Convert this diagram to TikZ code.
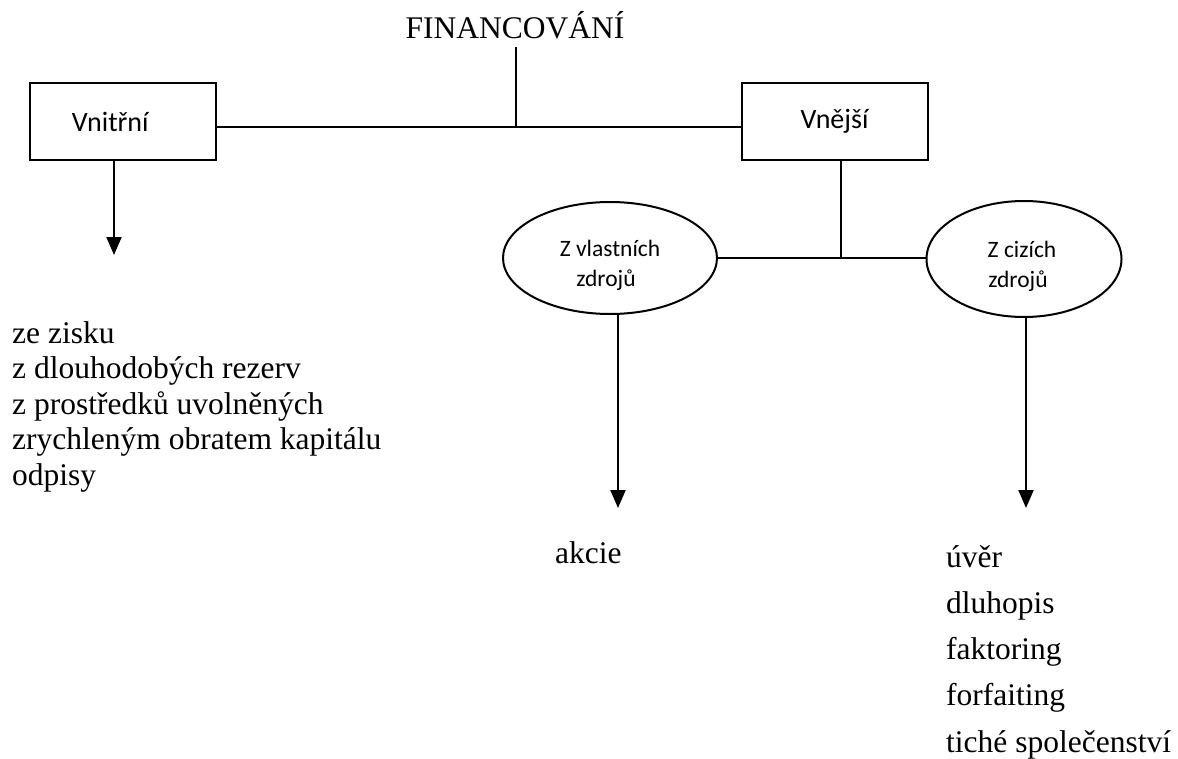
\documentclass[tikz,border=0pt]{standalone}
\usepackage{fontspec}
\setmainfont{Liberation Serif}
\newfontfamily\calibrifont{Carlito}
\usetikzlibrary{arrows.meta,shapes.geometric}
\begin{document}
\begin{tikzpicture}[x=1pt,y=-1pt,
  conn/.style={line width=2pt},
  arr/.style={line width=2pt,-{Triangle[width=15pt,length=18pt]}},
  box/.style={draw,line width=2pt,minimum width=186pt,minimum height=77pt,inner sep=0pt,
    font=\calibrifont\fontsize{28}{34}\selectfont},
  ell/.style={draw,ellipse,line width=2pt,inner sep=0pt},
  elltext/.style={font=\calibrifont\fontsize{23.5}{30}\selectfont,inner sep=0pt,anchor=base},
  txt/.style={font=\fontsize{31.5}{36}\selectfont,inner sep=0pt,anchor=base west}]
\useasboundingbox (0,0) rectangle (1178,758);

\node[txt,anchor=base] (fin) at (515,38) {FINANCOVÁNÍ};
\node[box,text width=186pt,align=left] (vni) at (123,121.5) {\hspace*{42pt}Vnitřní};
\node[box] (vne) at (834.5,121.5) {Vnější};

\coordinate (top) at (516,47);
\coordinate (mid) at (516,127);
\draw[conn] (top) -- (mid);
\draw[conn] (vni.east |- mid) -- (vne.west |- mid);

\node[ell,minimum width=214pt,minimum height=112pt] (e1) at (610,258) {};
\node[ell,minimum width=195pt,minimum height=116pt] (e2) at (1024,259) {};
\node[elltext] (e1a) at (610,256) {Z vlastních};
\node[elltext] (e1b) at (606,286) {zdrojů};
\node[elltext] (e2a) at (1022,257) {Z cizích};
\node[elltext] (e2b) at (1018,287) {zdrojů};

\coordinate (j) at (841,258);
\draw[conn] (vne.south -| j) -- (j);
\draw[conn] (e1.east) -- (e2.west |- e1.east);

\coordinate (a1) at (114,255);
\draw[arr] (vni.south -| a1) -- (a1);
\coordinate (a2) at (618,508);
\draw[arr] (e1.south -| a2) -- (a2);
\coordinate (a3) at (1026,508);
\draw[arr] (e2.south -| a3) -- (a3);

\foreach \t [count=\i] in {ze zisku, z dlouhodobých rezerv, z prostředků uvolněných, zrychleným obratem kapitálu, odpisy}
  \node[txt] (l\i) at (12,{343+35.5*(\i-1)}) {\t};

\node[txt] (akcie) at (555,563) {akcie};

\foreach \t [count=\i] in {úvěr, dluhopis, faktoring, forfaiting, tiché společenství}
  \node[txt] (r\i) at (946,{567+46.3*(\i-1)}) {\t};
\end{tikzpicture}
\end{document}
